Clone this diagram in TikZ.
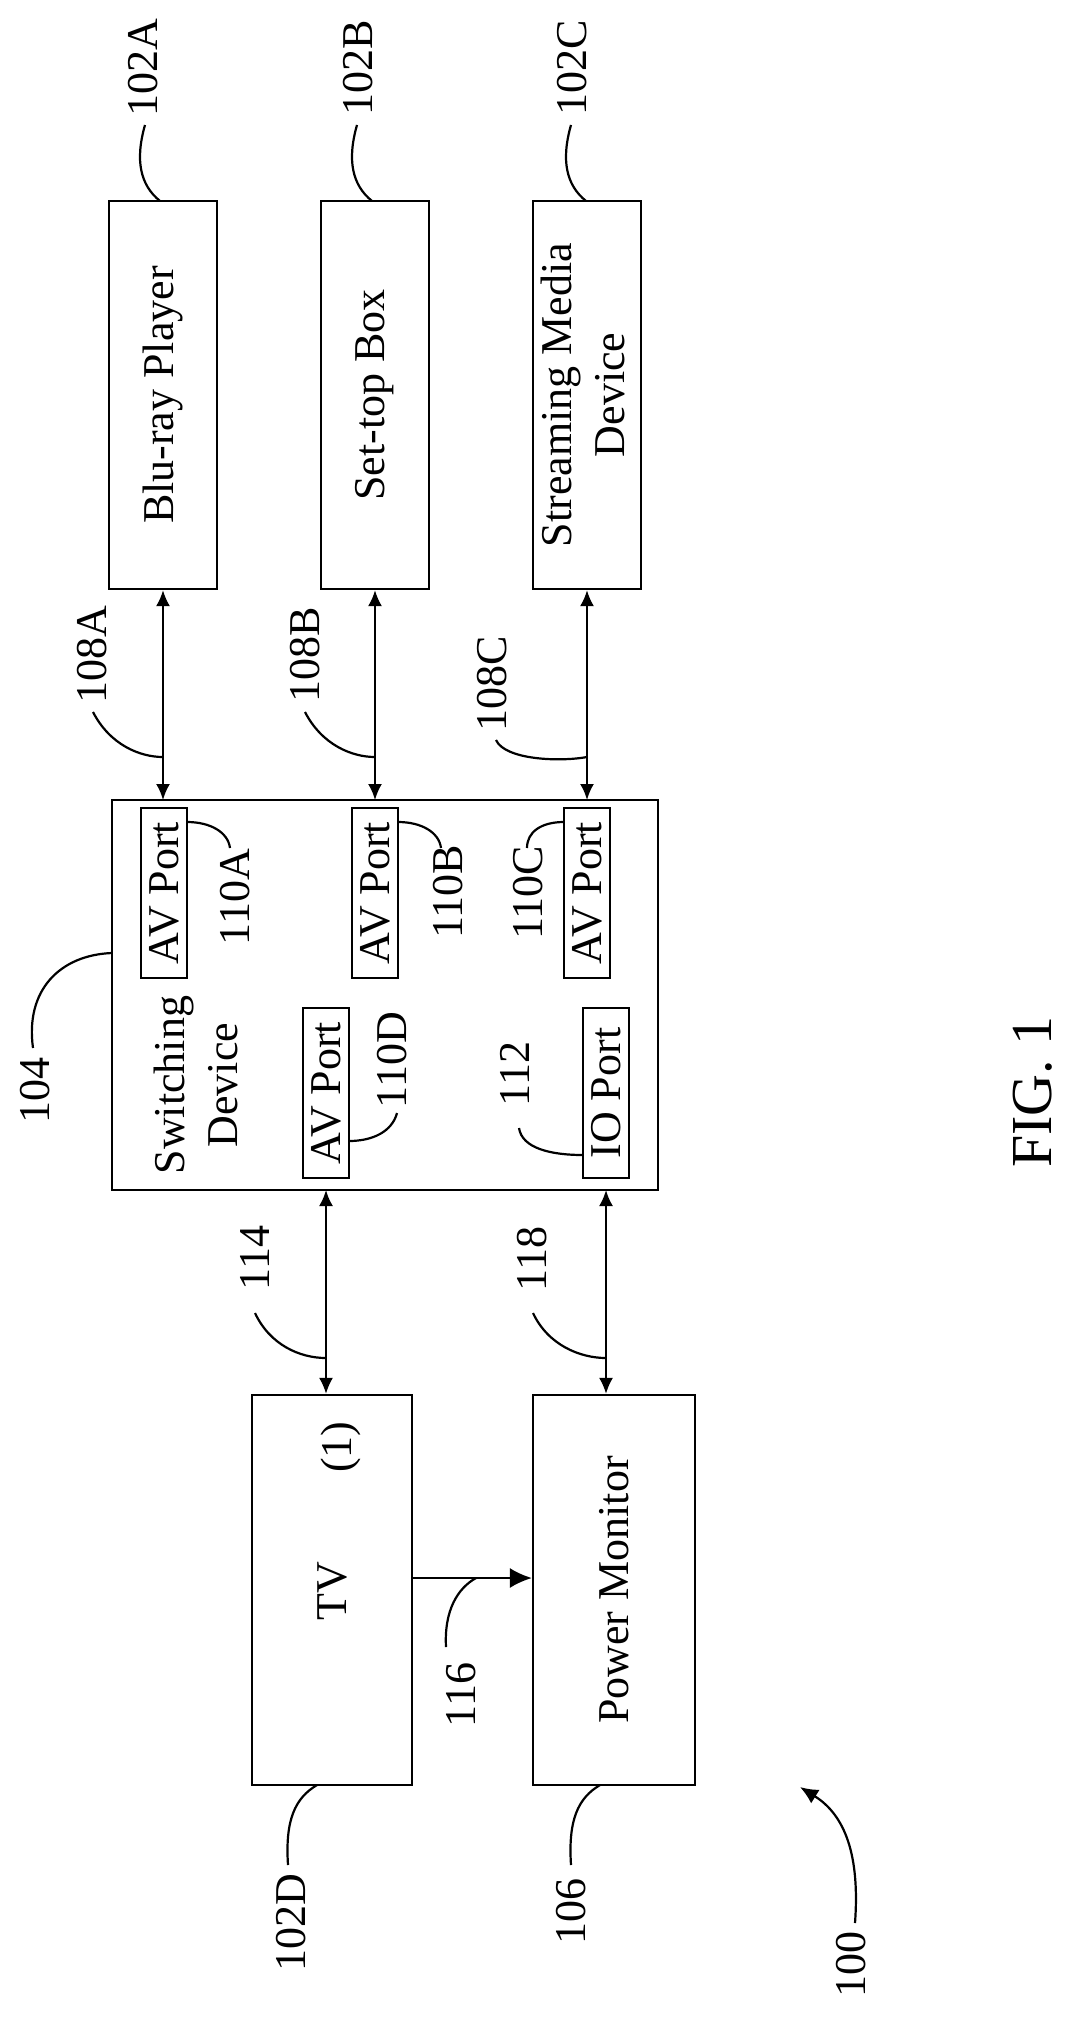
\documentclass[tikz,border=0pt]{standalone}
\usepackage{fontspec}
\setmainfont{Liberation Serif}
\usetikzlibrary{arrows.meta}
\begin{document}
\begin{tikzpicture}[x=1pt,y=-1pt,
  lw/.style={line width=2.2pt},
  box/.style={draw,lw,inner sep=0pt,font=\fontsize{44}{53}\selectfont},
  lbl/.style={inner sep=0pt,font=\fontsize{44}{53}\selectfont},
  lead/.style={lw},
  dbl/.style={lw,{Latex[length=16pt,width=14pt]}-{Latex[length=16pt,width=14pt]}},
  sgl/.style={lw,-{Latex[length=22pt,width=20pt]}}]
\useasboundingbox (0,0) rectangle (1075,2018);
% boxes
\node[box,minimum width=108pt,minimum height=388pt] (bA) at (163,395) {\rotatebox{90}{Blu-ray Player}};
\node[box,minimum width=108pt,minimum height=388pt] (bB) at (375,395) {\rotatebox{90}{Set-top Box}};
\node[box,minimum width=108pt,minimum height=388pt] (bC) at (587,395) {\rotatebox{90}{\begin{tabular}{@{}c@{}}Streaming Media\\Device\end{tabular}}};
\node[box,minimum width=546pt,minimum height=390pt] (sw) at (385,995) {};
\node[lbl] (swt) at (200,1085) {\rotatebox{90}{\begin{tabular}{@{}c@{}}Switching\\Device\end{tabular}}};
\node[box,minimum width=46pt,minimum height=170pt] (pA) at (164,893) {\rotatebox{90}{AV Port}};
\node[box,minimum width=46pt,minimum height=170pt] (pB) at (375,893) {\rotatebox{90}{AV Port}};
\node[box,minimum width=46pt,minimum height=170pt] (pC) at (587,893) {\rotatebox{90}{AV Port}};
\node[box,minimum width=46pt,minimum height=170pt] (pD) at (326,1093) {\rotatebox{90}{AV Port}};
\node[box,minimum width=46pt,minimum height=170pt] (pIO) at (606,1093) {\rotatebox{90}{IO Port}};
\node[box,minimum width=160pt,minimum height=390pt] (tv) at (332,1590) {};
\node[lbl] (tvt) at (332,1591) {\rotatebox{90}{TV}};
\node[lbl] (tv1) at (341,1447) {\rotatebox{90}{(1)}};
\node[box,minimum width=162pt,minimum height=390pt] (pm) at (614,1590) {\rotatebox{90}{Power Monitor}};
% connectors
\coordinate (sA) at (163,800);
\coordinate (sB) at (375,800);
\coordinate (sC) at (587,800);
\coordinate (sD) at (326,1190);
\coordinate (sIO) at (606,1190);
\draw[dbl] (bA.south) -- (sA);
\draw[dbl] (bB.south) -- (sB);
\draw[dbl] (bC.south) -- (sC);
\draw[dbl] (sD) -- (sD |- tv.north);
\draw[dbl] (sIO) -- (sIO |- pm.north);
\coordinate (t116) at (412,1578);
\draw[sgl] (t116) -- (t116 -| pm.west);
% reference labels
\node[lbl] (l102A) at (143,68) {\rotatebox{90}{102A}};
\node[lbl] (l102B) at (358,68) {\rotatebox{90}{102B}};
\node[lbl] (l102C) at (572,68) {\rotatebox{90}{102C}};
\draw[lead] (145,125) .. controls (135,160) and (140,185) .. (160,201);
\draw[lead] (357,125) .. controls (347,160) and (352,185) .. (372,201);
\draw[lead] (571,125) .. controls (561,160) and (566,185) .. (586,201);
\node[lbl] (l108A) at (92,655) {\rotatebox{90}{108A}};
\node[lbl] (l108B) at (305,655) {\rotatebox{90}{108B}};
\node[lbl] (l108C) at (492,684) {\rotatebox{90}{108C}};
\draw[lead] (93,712) .. controls (110,745) and (140,757) .. (163,757);
\draw[lead] (305,712) .. controls (322,745) and (352,757) .. (375,757);
\draw[lead] (496,740) .. controls (505,760) and (560,762) .. (587,757);
\node[lbl] (l104) at (35,1090) {\rotatebox{90}{104}};
\draw[lead] (33,1048) .. controls (25,990) and (60,955) .. (112,953);
\node[lbl] (l110A) at (235,897) {\rotatebox{90}{110A}};
\node[lbl] (l110B) at (448,892) {\rotatebox{90}{110B}};
\node[lbl] (l110C) at (528,893) {\rotatebox{90}{110C}};
\node[lbl] (l110D) at (392,1060) {\rotatebox{90}{110D}};
\node[lbl] (l112) at (515,1074) {\rotatebox{90}{112}};
\draw[lead] (187,822) .. controls (210,822) and (228,832) .. (230,848);
\draw[lead] (398,822) .. controls (421,822) and (439,832) .. (441,848);
\draw[lead] (564,822) .. controls (541,822) and (527,832) .. (527,848);
\draw[lead] (349,1141) .. controls (372,1141) and (392,1132) .. (397,1113);
\draw[lead] (519,1128) .. controls (522,1148) and (550,1155) .. (583,1155);
\node[lbl] (l114) at (255,1258) {\rotatebox{90}{114}};
\node[lbl] (l118) at (532,1259) {\rotatebox{90}{118}};
\draw[lead] (255,1313) .. controls (270,1345) and (300,1358) .. (326,1358);
\draw[lead] (533,1313) .. controls (548,1345) and (580,1358) .. (606,1358);
\node[lbl] (l116) at (461,1695) {\rotatebox{90}{116}};
\draw[lead] (446,1647) .. controls (444,1610) and (458,1588) .. (476,1578);
\node[lbl] (l102D) at (291,1923) {\rotatebox{90}{102D}};
\node[lbl] (l106) at (571,1911) {\rotatebox{90}{106}};
\draw[lead] (288,1865) .. controls (285,1820) and (295,1798) .. (317,1785);
\draw[lead] (571,1865) .. controls (568,1820) and (578,1798) .. (600,1785);
\node[lbl] (l100) at (851,1964) {\rotatebox{90}{100}};
\draw[lw,-{Latex[length=18pt,width=16pt]}] (855,1923) .. controls (860,1855) and (845,1815) .. (800,1787);
\node[inner sep=0pt,font=\fontsize{58}{64}\selectfont] (fig) at (1033,1092) {\rotatebox{90}{FIG. 1}};
\end{tikzpicture}
\end{document}
